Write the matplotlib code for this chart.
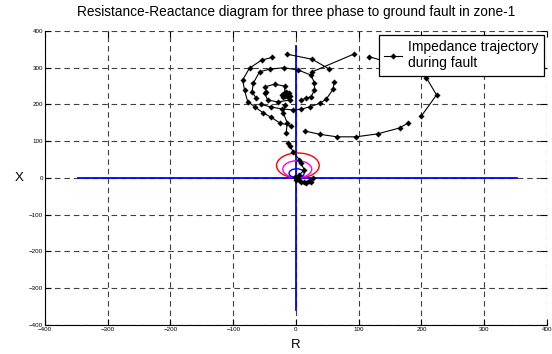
import matplotlib.pyplot as plt
from matplotlib.patches import Circle
import numpy as np

nan = np.nan

# impedance trajectory (R, X), nan = break in the line
traj_r = [26, 92, nan,
          117, 144, 180, 208, 224, 200, nan,
          179, 165, 130, 96, 65, 37.5, 13.6, nan,
          -7.7, -26, -39.5, -53, -66, -77, -82, -85, -74, -54.5, -38, nan,
          -14.7, 25.8, 53.4, nan,
          61, 59, 48, 37.5, 22.6, 8, -5, -22, -40, -55, nan,
          -63.5, -70, -68, -58, -42, -19.5, 3, 24, 29.5, 29.5, 24, 16, 8, nan,
          -10, -29, -45, -50, -47, -50, -34, -18,
          -18, -22, -20, -13, -9, -11, -16, -21, -18, -13, -14, nan,
          -18, -20, -14, -15.6, nan,
          -13, -9, -5, 5.6, 8, 13.5, 5, -1, 0, 8, 16, 24, 27, 20, 12, 5, 2]
traj_x = [289, 337, nan,
          330, 316, 300, 272, 226, 169, nan,
          150, 136, 120, 112, 112, 119, 128, nan,
          142, 150, 165, 178, 194, 208, 239, 267, 299, 321, 328, nan,
          337, 323, 296, nan,
          262, 241, 214, 203, 194, 187, 185, 188, 193, 200, nan,
          217, 235, 258, 289, 296, 300, 294, 280, 258, 239, 221, 217, 212, nan,
          212, 207, 212, 231, 235, 248, 255, 250,
          231, 226, 220, 219, 224, 231, 234, 229, 222, 224, 230, nan,
          199, 176, 150, 121.6, nan,
          96, 87, 72, 49, 40, 22, 8, 3.6, -5, -10, -14, -10, -1, -8, -12, -6, 0]

# relay zone circles: centre R, centre X, radius
zone_r = [3, 2, 1]
zone_x = [34, 24, 13]
zone_rad = [34, 23, 12]
zone_col = ['red', 'magenta', 'blue']

ticks = [-400, -300, -200, -100, 0, 100, 200, 300, 400]

fig = plt.figure(figsize=(5.52, 3.54), dpi=100)
ax = fig.add_axes([0.0815, 0.082, 0.9094, 0.8305])

ax.plot([-348, 352], [0, 0], color='blue', lw=1.3, zorder=3)
ax.plot([0, 0], [-358, 360], color='blue', lw=1.3, zorder=3)

for cr, cx, rad, col in zip(zone_r, zone_x, zone_rad, zone_col):
    ax.add_patch(Circle((cr, cx), rad, fill=False, edgecolor=col, lw=1.0, zorder=4))

ax.plot(traj_r, traj_x, color='black', lw=0.8, marker=(4, 1, 0), ms=3.5,
        label='Impedance trajectory\nduring fault', zorder=5)

ax.set_xlim(-400, 400)
ax.set_ylim(-400, 400)
ax.set_xticks(ticks)
ax.set_yticks(ticks)
ax.tick_params(direction='in', length=4, width=0.8, labelsize=4.5, pad=1.5,
               top=True, right=True)
ax.grid(True, color='#404040', linestyle=(0, (5, 3.5)), lw=0.8)
ax.set_axisbelow(True)
ax.spines['top'].set_visible(False)
ax.spines['right'].set_visible(False)

font = ['Liberation Sans', 'DejaVu Sans']
for lab in ax.get_xticklabels() + ax.get_yticklabels():
    lab.set_family(font)
ax.set_title('Resistance-Reactance diagram for three phase to ground fault in zone-1',
             family=font, fontsize=9.8, pad=11)
ax.set_xlabel('R', family=font, fontsize=9.5, labelpad=5)
ax.set_ylabel('X', family=font, fontsize=9.5, labelpad=7, rotation=0, va='center')

leg = ax.legend(loc='upper right', prop={'family': font, 'size': 10},
                frameon=True, fancybox=False, handlelength=1.3,
                borderaxespad=0.05, labelspacing=0.25, handletextpad=0.4,
                borderpad=0.4, bbox_to_anchor=(0.995, 0.99))
leg.get_frame().set_edgecolor('black')
leg.get_frame().set_linewidth(0.9)
leg.get_frame().set_alpha(1)

fig.savefig('out.png', dpi=100)
